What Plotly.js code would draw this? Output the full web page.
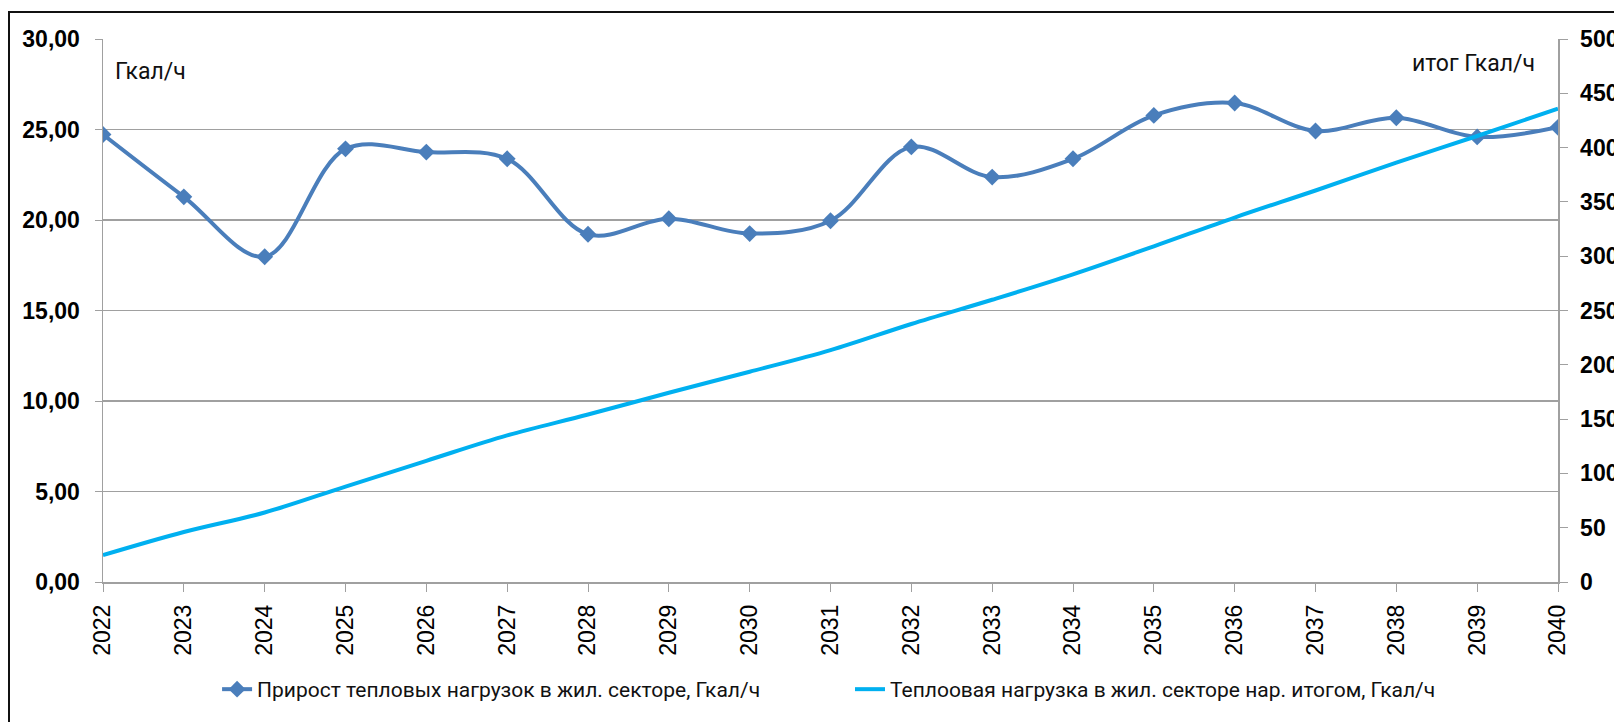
<!DOCTYPE html>
<html><head><meta charset="utf-8">
<script src="https://cdn.plot.ly/plotly-3.0.1.min.js"></script>
<style>
html,body{margin:0;padding:0;background:#fff;overflow:hidden;}
#wrap{position:relative;width:1614px;height:722px;overflow:hidden;}
#chart{width:1614px;height:722px;}
#frame{position:absolute;left:8px;top:11px;width:3000px;height:3000px;border-left:2px solid #111;border-top:2px solid #111;pointer-events:none;}
</style>
</head><body>
<div id="wrap"><div id="chart"></div><div id="frame"></div></div>
<script>
const years = ['2022','2023','2024','2025','2026','2027','2028','2029','2030','2031','2032','2033','2034','2035','2036','2037','2038','2039','2040'];
const growth = [24.72,21.28,17.97,23.93,23.75,23.38,19.21,20.07,19.25,19.96,24.04,22.37,23.38,25.78,26.46,24.92,25.65,24.59,25.12];
const cumulative = [24.7,46.0,64.0,87.9,111.6,135.0,154.2,174.3,193.6,213.5,237.6,259.9,283.3,309.1,335.6,360.5,386.1,410.7,435.8];
const leftTicks = [0,5,10,15,20,25,30];
const rightTicks = [0,50,100,150,200,250,300,350,400,450,500];
const name1 = 'Прирост тепловых нагрузок в жил. секторе, Гкал/ч';
const name2 = 'Теплоовая нагрузка в жил. секторе нар. итогом, Гкал/ч';

const gray = '#A0A0A0';
const tickFont = {family:'Liberation Sans, Arial, sans-serif', size:23, color:'#000', weight:'bold'};
const textFont = {family:'Roboto, sans-serif', size:21, color:'#111'};

const traces = [
  {x:years, y:cumulative, name:name2, type:'scatter', mode:'lines', yaxis:'y2',
   line:{color:'#00B0F0', width:4, shape:'spline'}, legend:'legend2'},
  {x:years, y:growth, name:name1, type:'scatter', mode:'lines+markers', yaxis:'y',
   line:{color:'#4A7EBB', width:4, shape:'spline'},
   marker:{symbol:'diamond', size:13, color:'#4A7EBB'}, legend:'legend'}
];

const layout = {
  width:1614, height:722,
  margin:{l:103, r:56, t:39, b:138},
  paper_bgcolor:'#fff', plot_bgcolor:'#fff',
  separators:', ',
  showlegend:true,
  xaxis:{type:'category', range:[0,18], tickangle:-90, ticks:'outside', ticklen:8, tickcolor:gray,
    showline:true, linecolor:gray, linewidth:1.5, showgrid:false, zeroline:false,
    tickfont:{family:'Liberation Sans, Arial, sans-serif', size:23, color:'#000'}, ticklabelstandoff:4},
  yaxis:{range:[0,30], tickvals:leftTicks, tickformat:'.2f', ticks:'outside', ticklen:7, tickcolor:gray,
    showline:true, linecolor:gray, linewidth:1.5, showgrid:true, gridcolor:gray, gridwidth:1.2,
    zeroline:false, tickfont:tickFont, ticklabelstandoff:10},
  yaxis2:{range:[0,500], tickvals:rightTicks, tickformat:'d', overlaying:'y', side:'right',
    ticks:'outside', ticklen:8, tickcolor:gray, showline:true, linecolor:gray, linewidth:1.5,
    showgrid:false, zeroline:false, tickfont:tickFont, ticklabelstandoff:8},
  legend:{orientation:'h', x:0.0784, y:-0.198, xanchor:'left', yanchor:'middle',
    bgcolor:'rgba(0,0,0,0)', font:textFont},
  legend2:{orientation:'h', x:0.5134, y:-0.198, xanchor:'left', yanchor:'middle',
    bgcolor:'rgba(0,0,0,0)', font:textFont},
  annotations:[
    {text:'Гкал/ч', xref:'paper', yref:'paper', x:0, xshift:10, y:0.94, xanchor:'left', yanchor:'middle',
     showarrow:false, font:{family:'Roboto, sans-serif', size:23, color:'#111'}},
    {text:'итог Гкал/ч', xref:'paper', yref:'paper', x:0.9854, y:0.9554, xanchor:'right', yanchor:'middle',
     showarrow:false, font:{family:'Roboto, sans-serif', size:23, color:'#111'}}
  ]
};

Plotly.newPlot('chart', traces, layout, {displayModeBar:false, staticPlot:true});
</script>
</body></html>
